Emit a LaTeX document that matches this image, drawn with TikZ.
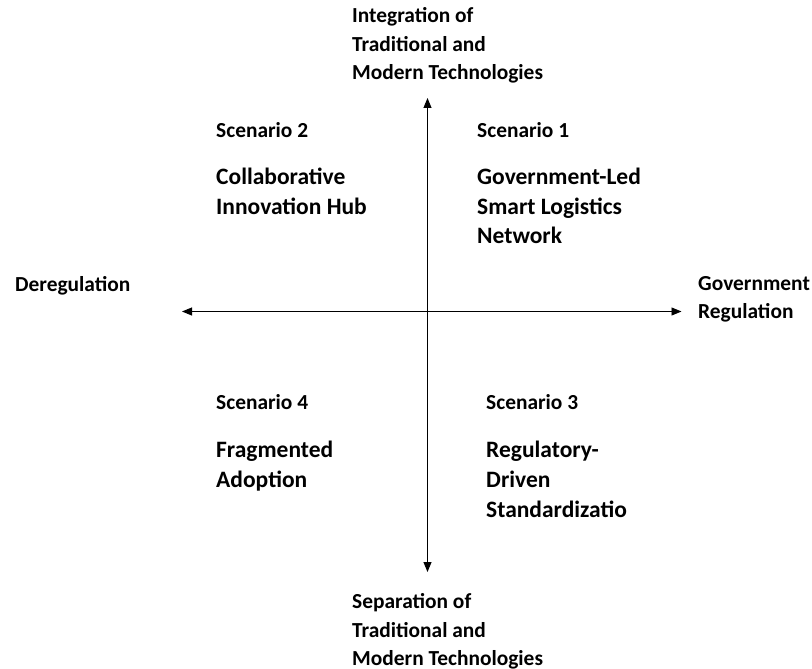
\documentclass[tikz,border=0pt]{standalone}
\usepackage{fontspec}
\setmainfont{Carlito}
\usetikzlibrary{arrows.meta}
\begin{document}
\begin{tikzpicture}[x=1pt,y=-1pt,
  lbl/.style={anchor=base west,inner sep=0pt,font=\fontsize{21.4}{25}\selectfont\bfseries},
  scen/.style={anchor=base west,inner sep=0pt,font=\fontsize{21.4}{25}\selectfont\bfseries},
  body/.style={anchor=base west,inner sep=0pt,font=\fontsize{23.5}{28}\selectfont\bfseries},
  axis/.style={line width=0.9pt,{Triangle[length=10pt,width=8pt]}-{Triangle[length=10pt,width=8pt]}}]
\useasboundingbox (0,0) rectangle (812,669);

% axis end points
\coordinate (top) at (427.5,98);
\coordinate (bottom) at (427.5,572);
\coordinate (left) at (182,311.5);
\coordinate (right) at (681.5,311.5);

\draw[axis] (bottom) -- (top);
\draw[axis] (left) -- (right);

% vertical axis labels
\node[lbl] (t1) at (352,23) {Integration of};
\node[lbl] (t2) at (352,52) {Traditional and};
\node[lbl] (t3) at (352,80) {Modern Technologies};

\node[lbl] (b1) at (352,608) {Separation of};
\node[lbl] (b2) at (352,637) {Traditional and};
\node[lbl] (b3) at (352,665) {Modern Technologies};

% horizontal axis labels
\node[lbl] (l1) at (15,291) {Deregulation};
\node[lbl] (r1) at (698,290) {Government};
\node[lbl] (r2) at (698,318) {Regulation};

% scenario 2 (upper left)
\node[scen] (s2) at (216,137) {Scenario 2};
\node[body] (s2a) at (216,184) {Collaborative};
\node[body] (s2b) at (216,214) {Innovation Hub};

% scenario 1 (upper right)
\node[scen] (s1) at (477,137) {Scenario 1};
\node[body] (s1a) at (477,184) {Government-Led};
\node[body] (s1b) at (477,214) {Smart Logistics};
\node[body] (s1c) at (477,243) {Network};

% scenario 4 (lower left)
\node[scen] (s4) at (216,409) {Scenario 4};
\node[body] (s4a) at (216,457) {Fragmented};
\node[body] (s4b) at (216,487) {Adoption};

% scenario 3 (lower right)
\node[scen] (s3) at (486,409) {Scenario 3};
\node[body] (s3a) at (486,457) {Regulatory-};
\node[body] (s3b) at (486,487) {Driven};
\node[body] (s3c) at (486,517) {Standardizatio};
\end{tikzpicture}
\end{document}
